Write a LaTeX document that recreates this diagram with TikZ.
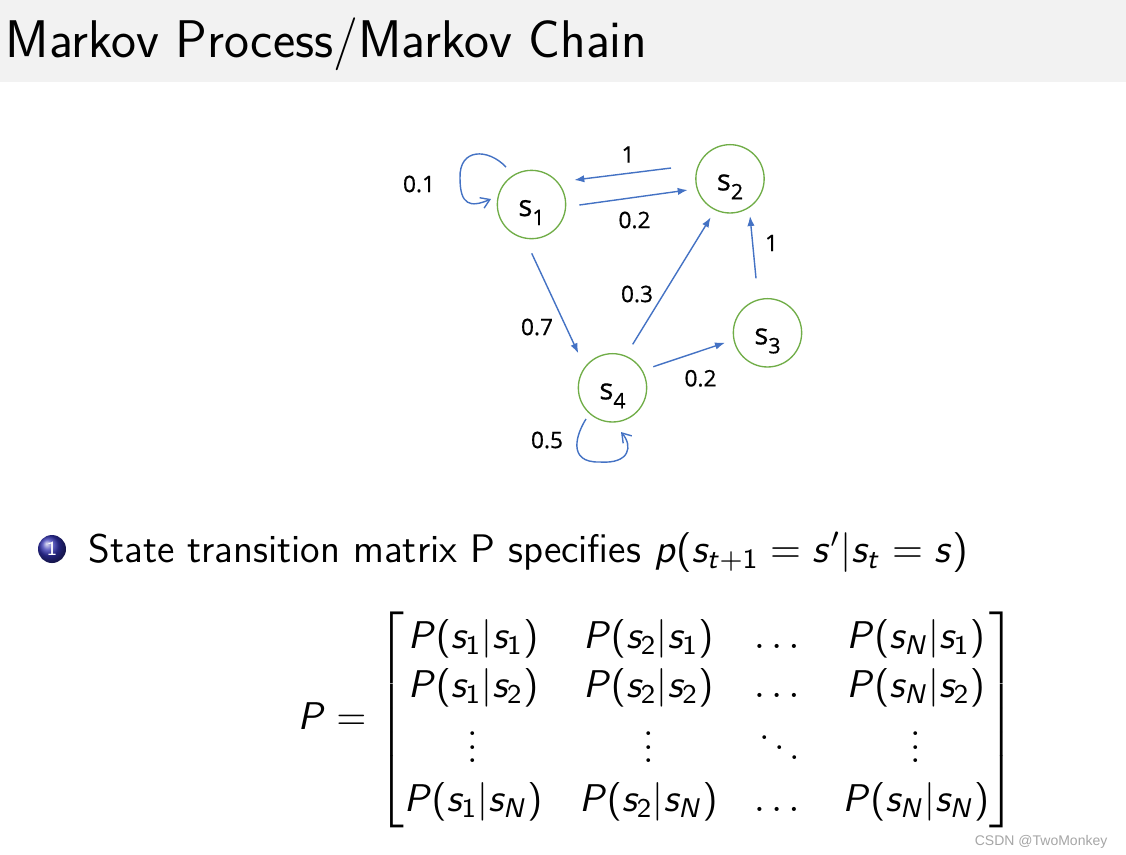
\RequirePackage{fix-cm}
\documentclass[tikz,border=0pt]{standalone}
\usepackage[no-math]{fontspec}
\usepackage{amsmath}
\usetikzlibrary{arrows.meta,calc,shadings}
\newfontfamily\grfont[FakeBold=0.6]{Open Sans}
\newfontfamily\wmfont{Liberation Sans}
\DeclareSymbolFont{sfletters}{OT1}{cmss}{m}{sl}
\SetSymbolFont{operators}{normal}{OT1}{cmss}{m}{n}
\DeclareMathSymbol{P}{\mathalpha}{sfletters}{`P}
\DeclareMathSymbol{p}{\mathalpha}{sfletters}{`p}
\DeclareMathSymbol{s}{\mathalpha}{sfletters}{`s}
\DeclareMathSymbol{t}{\mathalpha}{sfletters}{`t}
\DeclareMathSymbol{N}{\mathalpha}{sfletters}{`N}
\definecolor{titlebg}{HTML}{F2F2F2}
\definecolor{nodegreen}{HTML}{70AD47}
\definecolor{arrblue}{HTML}{4472C4}
\definecolor{ballblue}{rgb}{0.2,0.2,0.7}
\definecolor{wmgray}{HTML}{A6A6A6}
\newcommand{\stlabel}[1]{s\raisebox{-2.7pt}{\fontsize{6.4}{7}\selectfont #1}}
\tikzset{
  state/.style={circle, draw=nodegreen, line width=0.4pt, minimum size=20.5pt,
    inner sep=0pt, text height=6.9pt, text depth=0pt,
    font=\grfont\fontsize{8.8}{10}\selectfont},
  arr/.style={draw=arrblue, line width=0.42pt, -{Latex[length=3pt,width=2.2pt]}},
  selfloop/.style={draw=arrblue, line width=0.42pt, -{Straight Barb[length=2.6pt,width=3.4pt]}},
  prob/.style={inner sep=0pt, font=\grfont\fontsize{6.8}{8}\selectfont},
}
\begin{document}
\begin{tikzpicture}[x=0.3pt,y=-0.3pt]
\useasboundingbox (0,0) rectangle (1126,854);
\fill[white] (0,0) rectangle (1126,854);
\fill[titlebg] (0,0) rectangle (1126,82);
\node[anchor=base west, inner sep=0pt, font=\sffamily\fontsize{15.9}{19}\selectfont] (title) at (5,57) {Markov Process/Markov Chain};

% states
\node[state] (s1) at (531.5,204.5) {\stlabel{1}};
\node[state] (s2) at (730,178.8) {\stlabel{2}};
\node[state] (s3) at (767.5,332.8) {\stlabel{3}};
\node[state] (s4) at (612.5,387.8) {\stlabel{4}};

% transitions
\draw[arr] ($(s2.center)+(-59,-10.8)$) -- ($(s1.center)+(42.8,-24.5)$);
\draw[arr] ($(s1.center)+(47.8,0.5)$) -- ($(s2.center)+(-42.3,11.2)$);
\draw[arr] ($(s1.center)+(0.2,48.8)$) -- ($(s4.center)+(-34.2,-34.5)$);
\draw[arr] ($(s4.center)+(20.2,-43.5)$) -- ($(s2.center)+(-19.3,38.5)$);
\draw[arr] ($(s3.center)+(-11.5,-54.5)$) -- ($(s2.center)+(20,37.2)$);
\draw[arr] ($(s4.center)+(40.8,-21.1)$) -- ($(s3.center)+(-42.5,9.9)$);
\draw[selfloop] ($(s1.center)+(-25.5,-37.5)$)
  .. controls ($(s1.center)+(-43.5,-56.5)$) and ($(s1.center)+(-72.5,-56.5)$) .. ($(s1.center)+(-71.5,-26.5)$)
  .. controls ($(s1.center)+(-71.5,0.5)$) and ($(s1.center)+(-61.5,3.5)$) .. ($(s1.center)+(-40.5,-5.5)$);
\draw[selfloop] ($(s4.center)+(-26.5,31.2)$)
  .. controls ($(s4.center)+(-35.5,45.2)$) and ($(s4.center)+(-46.5,75.2)$) .. ($(s4.center)+(-12.5,74.2)$)
  .. controls ($(s4.center)+(17.5,76.2)$) and ($(s4.center)+(20.5,58.2)$) .. ($(s4.center)+(8.5,44.2)$);

% probabilities
\node[prob] (p11) at (419,184) {0.1};
\node[prob] (p21) at (628,154.5) {1};
\node[prob] (p12) at (634.5,220) {0.2};
\node[prob] (p32) at (771.5,243) {1};
\node[prob] (p42) at (637,294) {0.3};
\node[prob] (p14) at (537,327) {0.7};
\node[prob] (p43) at (700.5,378.3) {0.2};
\node[prob] (p44) at (547,440) {0.5};

% item
\node[circle, ball color=ballblue, minimum size=8.4pt, inner sep=0pt, text=white,
  font=\sffamily\fontsize{6}{6}\selectfont] (ball) at (52,549) {1};
\node[anchor=base west, inner sep=0pt, font=\sffamily\fontsize{11.95}{14.5}\selectfont] (item) at (88,562)
  {State transition matrix P specifies $p(s_{t+1} = s'|s_t = s)$};

% matrix
\node[anchor=west, inner sep=0pt, font=\fontsize{11.6}{14.7}\selectfont] (mat) at (297,720)
  {$\setlength\arraycolsep{5.5pt}P = \begin{bmatrix}
    P(s_1|s_1) & P(s_2|s_1) & \dots & P(s_N|s_1)\\
    P(s_1|s_2) & P(s_2|s_2) & \dots & P(s_N|s_2)\\
    \vdots & \vdots & \ddots & \vdots\\
    P(s_1|s_N) & P(s_2|s_N) & \dots & P(s_N|s_N)
  \end{bmatrix}$};

\node[anchor=base east, inner sep=0pt, text=wmgray, font=\wmfont\fontsize{4.2}{5}\selectfont] (wm) at (1108,845) {CSDN @TwoMonkey};
\end{tikzpicture}
\end{document}
